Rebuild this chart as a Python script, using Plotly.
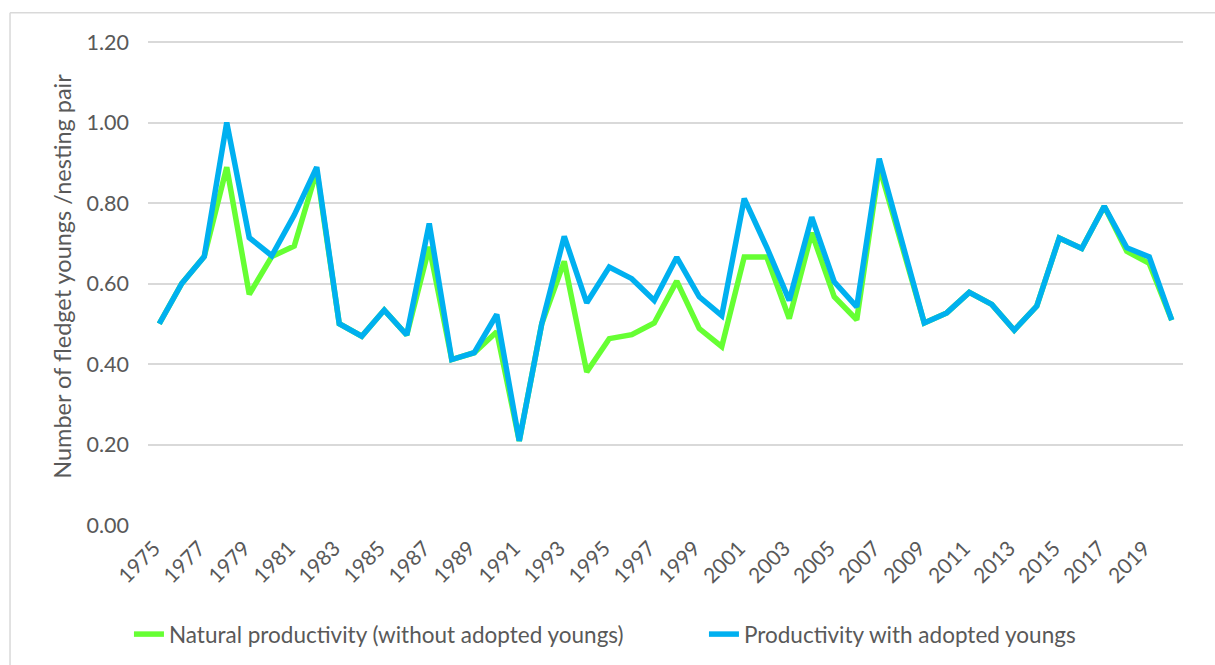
import plotly.graph_objects as go

years = list(range(1975, 2021))
natural = [0.50, 0.60, 0.667, 0.889, 0.573, 0.667, 0.693, 0.88, 0.50, 0.469,
           0.534, 0.472, 0.691, 0.411, 0.428, 0.48, 0.209, 0.50, 0.655, 0.38,
           0.463, 0.473, 0.502, 0.606, 0.488, 0.443, 0.666, 0.666, 0.513, 0.726,
           0.567, 0.51, 0.89, 0.70, 0.502, 0.527, 0.578, 0.548, 0.484, 0.544,
           0.713, 0.687, 0.792, 0.68, 0.65, 0.509]
adopted = [0.50, 0.60, 0.667, 1.00, 0.714, 0.669, 0.77, 0.889, 0.50, 0.469,
           0.534, 0.472, 0.749, 0.411, 0.428, 0.523, 0.209, 0.50, 0.717, 0.552,
           0.641, 0.612, 0.558, 0.665, 0.567, 0.52, 0.811, 0.69, 0.558, 0.765,
           0.604, 0.542, 0.91, 0.705, 0.502, 0.527, 0.578, 0.548, 0.484, 0.544,
           0.713, 0.687, 0.792, 0.689, 0.666, 0.509]
tick_years = list(range(1975, 2020, 2))
y_ticks = [0.0, 0.2, 0.4, 0.6, 0.8, 1.0, 1.2]

TXT = "#595959"
GRID = "#d9d9d9"
FONT = "Lato"

fig = go.Figure()
fig.add_trace(go.Scatter(x=years, y=natural, mode="lines",
                         name="Natural productivity (without adopted youngs)",
                         line=dict(color="#66ff33", width=5.5)))
fig.add_trace(go.Scatter(x=years, y=adopted, mode="lines",
                         name="Productivity with adopted youngs",
                         line=dict(color="#00b0f0", width=5.5)))

fig.update_layout(
    width=1215, height=665,
    margin=dict(l=148, r=32, t=40, b=140, autoexpand=False),
    plot_bgcolor="white", paper_bgcolor="white",
    font=dict(family=FONT, color=TXT, size=20),
    showlegend=True,
    legend=dict(orientation="h", x=-0.0184, xanchor="left", y=-0.2257, yanchor="middle",
                font=dict(size=22.5, color=TXT), entrywidth=530, entrywidthmode="pixels",
                bgcolor="rgba(0,0,0,0)"),
    xaxis=dict(range=[1974.5, 2020.5], tickmode="array", tickvals=tick_years,
               ticktext=[str(t) for t in tick_years], tickangle=-45,
               showgrid=False, zeroline=False, showline=False,
               tickfont=dict(size=21, color=TXT), ticklabelstandoff=6, ticklabelshift=-5),
    yaxis=dict(range=[0, 1.205], tickmode="array", tickvals=y_ticks,
               ticktext=["%.2f" % v for v in y_ticks],
               showgrid=True, gridcolor=GRID, gridwidth=1.5, zeroline=False,
               showline=False, tickfont=dict(size=21.5, color=TXT), ticklabelstandoff=18),
    annotations=[dict(text="Number of fledget youngs /nesting pair", xref="paper", yref="paper",
                      x=-0.083, y=0.512, xanchor="center", yanchor="middle", textangle=-90,
                      showarrow=False, font=dict(size=23.5, color=TXT, family=FONT))],
    shapes=[dict(type="line", xref="paper", yref="paper", x0=-0.1333, x1=-0.1333,
                 y0=-0.30, y1=1.056, line=dict(color=GRID, width=1.5)),
            dict(type="line", xref="paper", yref="paper", x0=-0.1333, x1=1.031,
                 y0=1.056, y1=1.056, line=dict(color=GRID, width=1.5))],
)

fig.write_html("out.html", config={"displayModeBar": False},
               post_script="document.body.style.margin='0';")
